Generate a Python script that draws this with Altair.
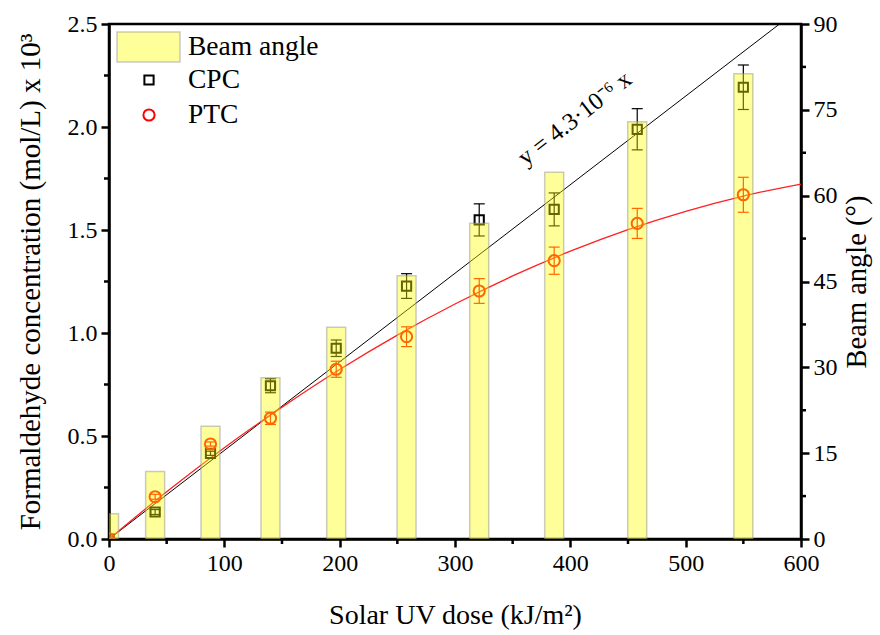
import altair as alt
import pandas as pd

# Sampling points: accumulated solar UV dose (kJ/m2)
dose = [0, 40, 88, 140, 197, 258, 321, 386, 458, 550]
# Beam angle at each sampling point (degrees)
beam_angle = [4.4, 11.8, 19.7, 28.2, 37.0, 46.0, 55.2, 64.1, 72.9, 81.3]
# Formaldehyde concentration (mol/L x 10^3) with error
cpc = [0.0, 0.131, 0.416, 0.744, 0.926, 1.228, 1.549, 1.600, 1.989, 2.193]
cpc_err = [0.0, 0.012, 0.010, 0.034, 0.040, 0.060, 0.078, 0.080, 0.100, 0.108]
ptc = [0.0, 0.205, 0.461, 0.586, 0.824, 0.982, 1.204, 1.351, 1.532, 1.671]
ptc_err = [0.0, 0.012, 0.010, 0.030, 0.039, 0.048, 0.060, 0.066, 0.073, 0.085]

# Linear fit for CPC: y = 4.3e-6 x
fit_dose = [0, 600]
fit_conc = [0.0, 2.58]

# Trend curve through the PTC data
curve_dose = [0, 50, 100, 150, 200, 250, 300, 350, 400, 450, 500, 550, 600]
curve_conc = [0.0, 0.229, 0.443, 0.640, 0.823, 0.990, 1.141, 1.277, 1.397, 1.502, 1.591, 1.665, 1.723]

# Axis ticks: labelled majors and unlabelled minors
x_major = [0, 100, 200, 300, 400, 500, 600]
x_minor = [50, 150, 250, 350, 450, 550]
y_major = [0.0, 0.5, 1.0, 1.5, 2.0, 2.5]
y_minor = [0.25, 0.75, 1.25, 1.75, 2.25]
r_major = [0, 15, 30, 45, 60, 75, 90]
r_minor = [7.5, 22.5, 37.5, 52.5, 67.5, 82.5]

legend_labels = ["Beam angle", "CPC", "PTC"]
equation = "y = 4.3\u00b710\u207b\u2076 x"

FONT = "Liberation Serif"
X_TITLE = "Solar UV dose (kJ/m\u00b2)"
Y_TITLE = "Formaldehyde concentration (mol/L) x 10\u00b3"

cpc_df = pd.DataFrame({"dose": dose, "conc": cpc,
                       "lo": [v - e for v, e in zip(cpc, cpc_err)],
                       "hi": [v + e for v, e in zip(cpc, cpc_err)]})
ptc_df = pd.DataFrame({"dose": dose, "conc": ptc,
                       "lo": [v - e for v, e in zip(ptc, ptc_err)],
                       "hi": [v + e for v, e in zip(ptc, ptc_err)]})
fit_df = pd.DataFrame({"dose": fit_dose, "conc": fit_conc})
curve_df = pd.DataFrame({"dose": curve_dose, "conc": curve_conc})
bar_df = pd.DataFrame({"dose": dose, "angle": beam_angle})
eq_df = pd.DataFrame({"dose": [404], "conc": [2.04], "label": [equation]})

common = dict(
    labelFont=FONT, labelFontSize=24, labelColor="black",
    titleFont=FONT, titleFontWeight="normal", titleColor="black",
    domainColor="black", domainWidth=2.5, tickColor="black", tickWidth=2.5, tickSize=8,
    labelFlush=False, labelOverlap=False, labelPadding=4, grid=False,
)

x_axis = alt.Axis(values=x_major, format="d", titleFontSize=28, titlePadding=26, **common)
y_axis = alt.Axis(values=y_major, format=".1f", titleFontSize=29, titlePadding=22, **common)
r_axis = alt.Axis(orient="right", values=r_major, format="d", titleFontSize=28.5, titlePadding=5,
                  titleAngle=270, titleBaseline="top", **common)

x_scale = alt.Scale(domain=[0, 600], nice=False, zero=False, padding=0)
y_scale = alt.Scale(domain=[0, 2.5], nice=False, zero=False)
r_scale = alt.Scale(domain=[0, 90], nice=False)


def X(field="dose"):
    return alt.X(f"{field}:Q", scale=x_scale, axis=x_axis, title=X_TITLE)


def Y(field):
    return alt.Y(f"{field}:Q", scale=y_scale, axis=y_axis, title=Y_TITLE)


fit_line = alt.Chart(fit_df).mark_line(color="black", strokeWidth=1, clip=True).encode(
    x=X(), y=Y("conc"))
curve_line = alt.Chart(curve_df).mark_line(color="#ff2020", strokeWidth=1.3, interpolate="monotone",
                                           clip=True).encode(x=X(), y=Y("conc"))


def series(df, color, shape, size):
    stem = alt.Chart(df).mark_rule(color=color, strokeWidth=1.2, clip=True).encode(
        x=X(), y=Y("lo"), y2="hi:Q")
    cap_hi = alt.Chart(df).mark_rule(color=color, strokeWidth=1.2, xOffset=-5.5, x2Offset=5.5,
                                     clip=True).encode(x=X(), x2="dose:Q", y=Y("hi"))
    cap_lo = alt.Chart(df).mark_rule(color=color, strokeWidth=1.2, xOffset=-5.5, x2Offset=5.5,
                                     clip=True).encode(x=X(), x2="dose:Q", y=Y("lo"))
    marks = alt.Chart(df).mark_point(shape=shape, size=size, color=color, filled=False,
                                     strokeWidth=2, opacity=1, clip=True).encode(x=X(), y=Y("conc"))
    return [stem, cap_hi, cap_lo, marks]


eq_text = alt.Chart(eq_df).mark_text(font=FONT, fontSize=24.5, angle=322, align="center",
                                     baseline="middle", color="black").encode(
    x=X(), y=Y("conc"), text="label:N")

# Minor ticks drawn as short rules just outside the plot frame
minor_x = alt.Chart(pd.DataFrame({"dose": x_minor})).mark_rule(
    color="black", strokeWidth=2.5).encode(
    x=X(), y=alt.value(515), y2=alt.value(520))
minor_y = alt.Chart(pd.DataFrame({"conc": y_minor})).mark_rule(
    color="black", strokeWidth=2.5).encode(
    y=Y("conc"), x=alt.value(0), x2=alt.value(-5))

left = alt.layer(
    fit_line, curve_line,
    *series(cpc_df, "black", "square", 85),
    *series(ptc_df, "#ff0000", "circle", 125),
    eq_text, minor_x, minor_y,
)

bars = alt.Chart(bar_df).mark_bar(size=19, fill="#ffff00", fillOpacity=0.4, stroke="#8c8c8c",
                                  strokeOpacity=0.45, strokeWidth=1.5, clip=True).encode(
    x=X(),
    y=alt.Y("angle:Q", scale=r_scale, axis=r_axis, title="Beam angle (\u00b0)"),
    y2=alt.datum(0),
)
minor_r = alt.Chart(pd.DataFrame({"angle": r_minor})).mark_rule(
    color="black", strokeWidth=2.5).encode(
    y=alt.Y("angle:Q", scale=r_scale, axis=r_axis, title="Beam angle (\u00b0)"),
    x=alt.value(692), x2=alt.value(697))
right = alt.layer(bars, minor_r)

# Legend drawn in the upper-left corner of the plot area
leg_df = pd.DataFrame({"label": legend_labels})
leg_box = alt.Chart(leg_df.head(1)).mark_rect(fill="#ffff00", fillOpacity=0.4, stroke="#8c8c8c",
                                              strokeOpacity=0.45, strokeWidth=1.5).encode(
    x=alt.value(8), x2=alt.value(71), y=alt.value(8), y2=alt.value(38))
leg_sq = alt.Chart(leg_df.head(1)).mark_point(shape="square", size=85, color="black", filled=False,
                                              strokeWidth=2, opacity=1).encode(
    x=alt.value(40), y=alt.value(56))
leg_ci = alt.Chart(leg_df.head(1)).mark_point(shape="circle", size=125, color="#ff0000",
                                              filled=False, strokeWidth=2, opacity=1).encode(
    x=alt.value(40), y=alt.value(91))
leg_text = [
    alt.Chart(leg_df.iloc[[i]]).mark_text(font=FONT, fontSize=27.5, align="left", baseline="middle",
                                          color="black").encode(
        x=alt.value(79), y=alt.value(yy), text="label:N")
    for i, yy in enumerate([23, 56, 91])
]

chart = alt.layer(left, right, leg_box, leg_sq, leg_ci, *leg_text).resolve_scale(
    y="independent"
).properties(
    width=692, height=515,
    padding={"left": 109, "top": 24, "right": 79, "bottom": 96},
    autosize="none",
    background="white",
).configure(
    font=FONT,
    style={"guide-label": {"font": FONT, "fontSize": 24, "fill": "black"},
           "guide-title": {"font": FONT, "fill": "black"}},
).configure_view(
    stroke="black", strokeWidth=2.5
).configure_axis(
    labelFont=FONT, titleFont=FONT,
)

chart.save("out.html", embed_options={"renderer": "svg", "actions": False})
